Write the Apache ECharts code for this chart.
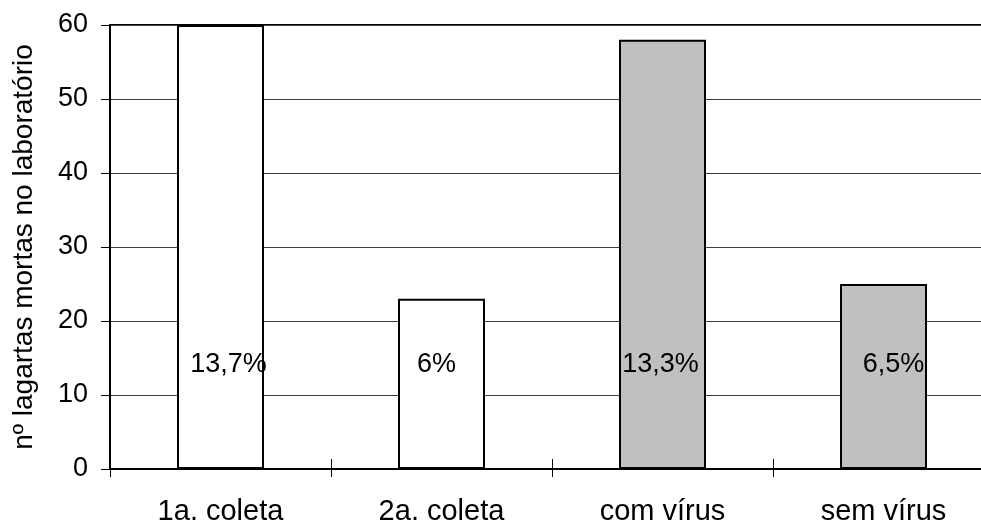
<!DOCTYPE html>
<html>
<head>
<meta charset="utf-8">
<script src="https://cdn.jsdelivr.net/npm/echarts@6/dist/echarts.min.js"></script>
<style>
  html, body { margin: 0; padding: 0; background: #fff; }
  #chart { width: 981px; height: 523px; }
</style>
</head>
<body>
<div id="chart"></div>
<script>
// dados
const categorias = ['1a. coleta', '2a. coleta', 'com vírus', 'sem vírus']
const lagartasMortas = [60, 23, 58, 25]
const coresBarras = ['#ffffff', '#ffffff', '#c0c0c0', '#c0c0c0']
const percentuais = ['13,7%', '6%', '13,3%', '6,5%']
const alturaRotulo = 14.3
const yTicks = [0, 10, 20, 30, 40, 50, 60]

const fonte = '"Liberation Sans", Arial, sans-serif'
const chart = echarts.init(document.getElementById('chart'), null, { renderer: 'canvas' })

// deslocamento horizontal dos rótulos (não ficam exatamente centrados)
const desloc = [8, -5, -2, 10]

const option = {
  animation: false,
  grid: {
    left: 110,
    top: 25,
    width: 884,
    height: 444,
    outerBoundsMode: 'none',
    containLabel: false,
    show: true,
    borderColor: '#000',
    borderWidth: 2
  },
  xAxis: [
    {
      type: 'category',
      data: categorias,
      axisLine: { lineStyle: { color: '#000', width: 2 } },
      axisTick: { show: true, length: 8, lineStyle: { color: '#000', width: 1 } },
      axisLabel: { color: '#000', fontSize: 29, fontFamily: fonte, margin: 28 },
      splitLine: { show: false }
    },
    {
      type: 'category',
      data: categorias,
      position: 'bottom',
      axisLine: { show: false },
      axisTick: { show: true, inside: true, length: 10, lineStyle: { color: '#000', width: 1 } },
      axisLabel: { show: false },
      splitLine: { show: false }
    }
  ],
  yAxis: {
    type: 'value',
    min: yTicks[0],
    max: yTicks[yTicks.length - 1],
    interval: 10,
    name: 'nº lagartas mortas no laboratório',
    nameLocation: 'middle',
    nameGap: 72,
    nameTextStyle: { color: '#000', fontSize: 28, fontFamily: fonte },
    axisLine: { show: true, lineStyle: { color: '#000', width: 2 } },
    axisTick: { show: true, length: 9, lineStyle: { color: '#000', width: 1 } },
    axisLabel: { color: '#000', fontSize: 27, fontFamily: fonte, margin: 22 },
    splitLine: { show: true, lineStyle: { color: '#404040', width: 1 } }
  },
  series: [
    {
      type: 'bar',
      barWidth: 87,
      data: lagartasMortas.map((v, i) => ({
        value: v,
        itemStyle: { color: coresBarras[i], borderColor: '#000', borderWidth: 2 }
      })),
      z: 2
    },
    {
      type: 'scatter',
      symbolSize: 0,
      silent: true,
      itemStyle: { opacity: 1 },
      data: percentuais.map((p, i) => ({
        value: alturaRotulo,
        label: { show: true, formatter: p, offset: [desloc[i], 15] }
      })),
      label: {
        position: 'top',
        distance: 0,
        color: '#000',
        fontSize: 27,
        fontFamily: fonte
      },
      z: 5
    }
  ]
}

chart.setOption(option)
</script>
</body>
</html>
